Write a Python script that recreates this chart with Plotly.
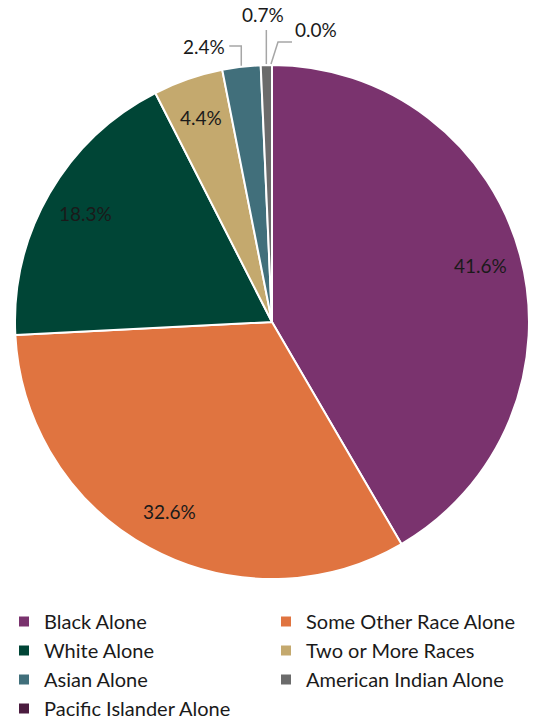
import math
import plotly.graph_objects as go

categories = ["Black Alone", "Some Other Race Alone", "White Alone", "Two or More Races",
              "Asian Alone", "American Indian Alone", "Pacific Islander Alone"]
values = [41.6, 32.6, 18.3, 4.4, 2.4, 0.7, 0.0]
colors = ["#7A336E", "#E07440", "#004536", "#C4A96E", "#416F7B", "#6B6B6B", "#4B1C3F"]
label_inside = [True, True, True, True, False, False, False]

W, H = 546, 723
cx, cy, r = 272, 322, 257
FONT = "Lato"
FS = 19
LFS = 20

def px(x):
    return x / W

def py(y):
    return 1 - y / H

fig = go.Figure(go.Pie(
    labels=categories, values=values, sort=False, direction="clockwise", rotation=0,
    marker=dict(colors=colors, line=dict(color="white", width=2)),
    textinfo="none", hoverinfo="label+percent",
    domain=dict(x=[px(cx - r), px(cx + r)], y=[py(cy + r), py(cy - r)]),
))

total = sum(values)
annotations = []
shapes = []
cum = 0.0
for i, v in enumerate(values):
    mid = (cum + v / 2) / total * 2 * math.pi
    cum += v
    txt = f"{v:.1f}%"
    if label_inside[i]:
        x = cx + 0.84 * r * math.sin(mid)
        y = cy - 0.84 * r * math.cos(mid)
        annotations.append(dict(x=px(x), y=py(y), xref="paper", yref="paper", text=txt,
                                xanchor="center", yanchor="middle",
                                showarrow=False, font=dict(family=FONT, size=FS, color="#1a1a1a")))
        continue
    ex = cx + (r + 1) * math.sin(mid)
    ey = cy - (r + 1) * math.cos(mid)
    if i == 4:
        ty = cy - r - 19
        pts = [(ex, ey), (ex, ty), (ex - 12, ty)]
        ann = dict(x=px(ex - 14), y=py(ty), xanchor="right", yanchor="middle")
    elif i == 5:
        ty = cy - r - 35
        pts = [(ex, ey), (ex, ty)]
        ann = dict(x=px(ex - 3), y=py(ty - 2), xanchor="center", yanchor="bottom")
    else:
        ty = cy - r - 23
        pts = [(ex - 1, ey), (ex + 6, ty), (ex + 20, ty)]
        ann = dict(x=px(ex + 21), y=py(ty + 1), xanchor="left", yanchor="bottom")
    path = "M " + " L ".join(f"{px(a):.5f},{py(b):.5f}" for a, b in pts)
    shapes.append(dict(type="path", path=path, xref="paper", yref="paper",
                       line=dict(color="#A6A6A6", width=1.5)))
    ann.update(xref="paper", yref="paper", text=txt, showarrow=False,
               font=dict(family=FONT, size=FS, color="#1a1a1a"))
    annotations.append(ann)

fig.update_layout(
    width=W, height=H, margin=dict(l=0, r=0, t=0, b=0, autoexpand=False),
    paper_bgcolor="white", plot_bgcolor="white",
    font=dict(family=FONT, size=FS, color="#1a1a1a"),
    annotations=annotations, shapes=shapes,
    legend=dict(orientation="h", x=px(4), y=py(602), xanchor="left", yanchor="top",
                entrywidth=217, entrywidthmode="pixels",
                font=dict(family=FONT, size=LFS, color="#1a1a1a")),
)

fig.write_html("out.html")
